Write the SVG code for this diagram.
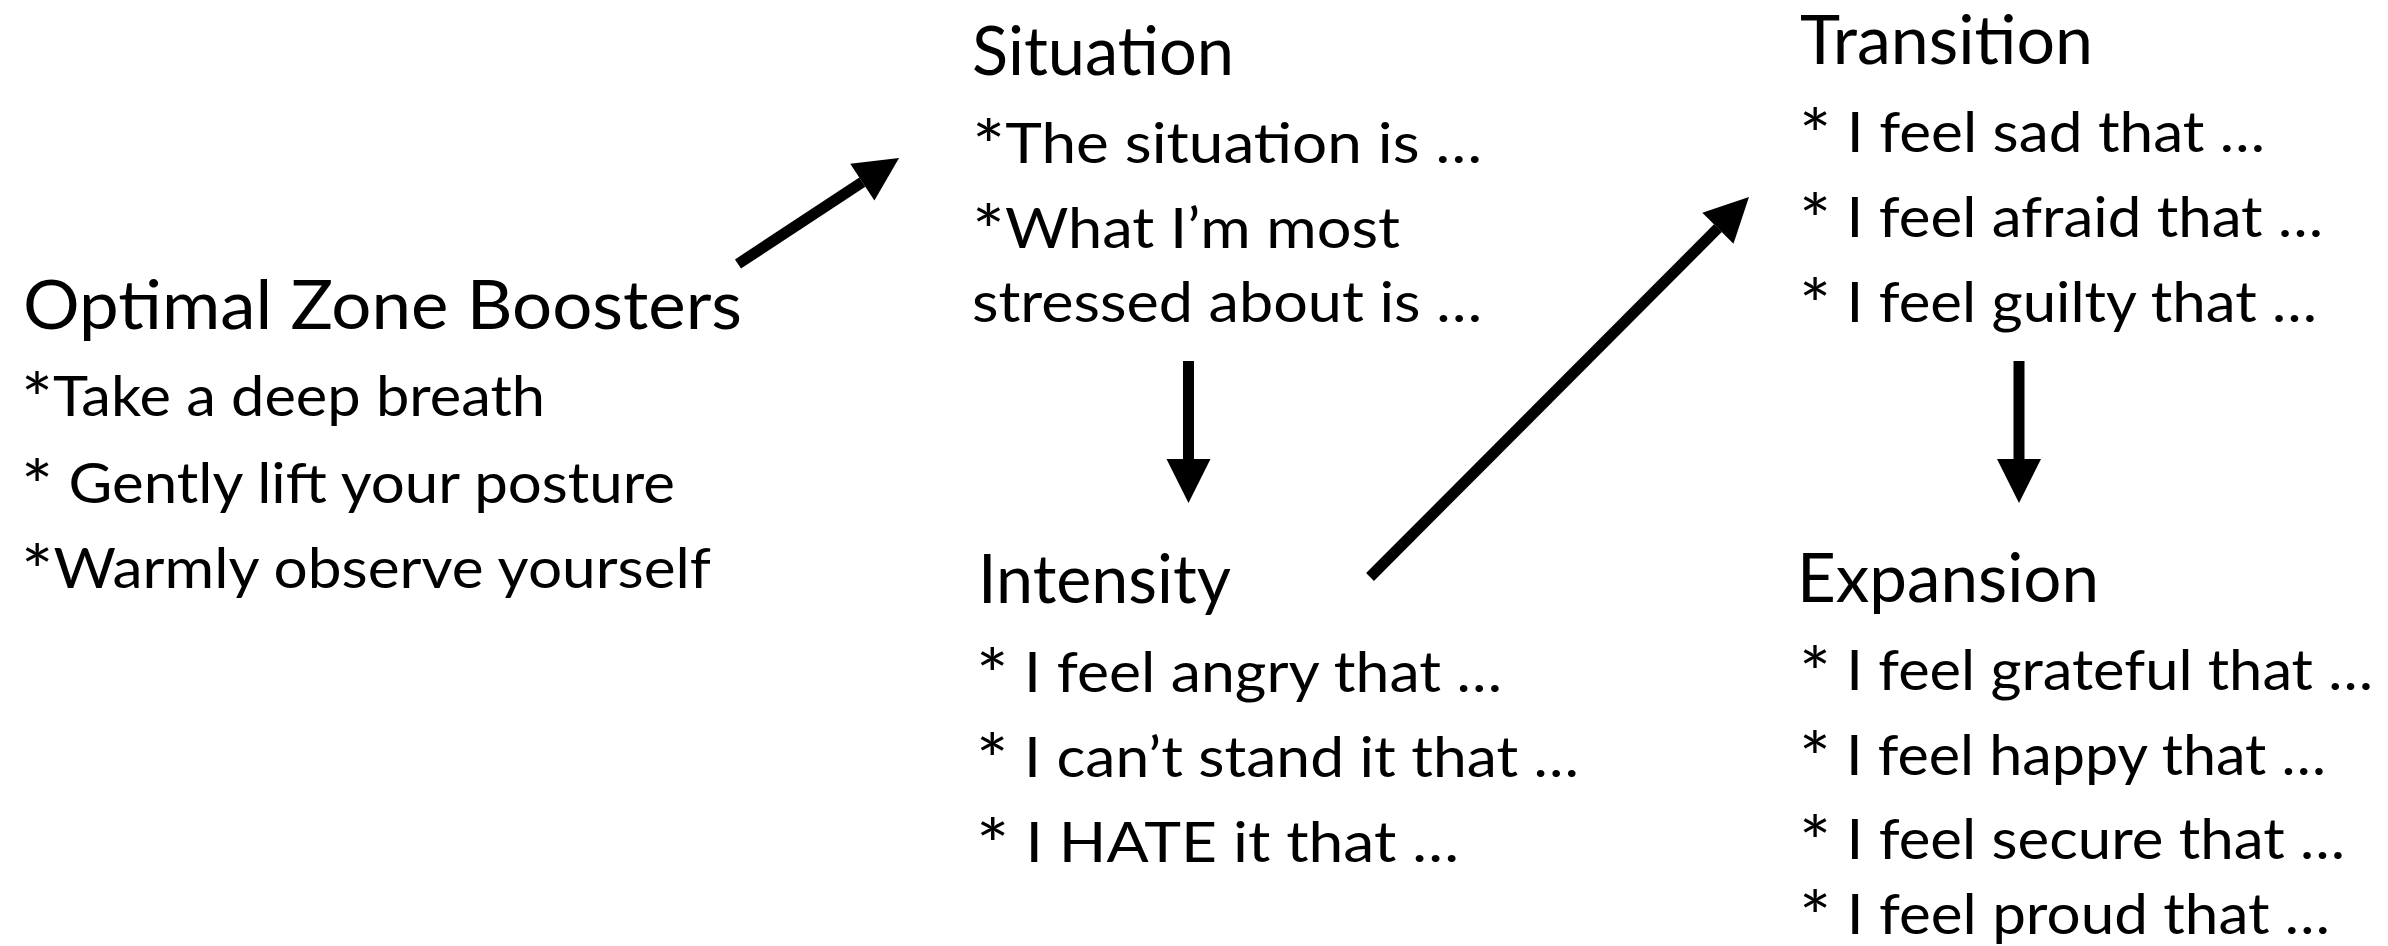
<svg xmlns="http://www.w3.org/2000/svg" width="2388" height="946" viewBox="0 0 2388 946">
  <style>
    .title { font-family: Lato, "Open Sans", "Liberation Sans", sans-serif; font-size: 67px; fill: #000; }
    .item { font-family: Lato, "Open Sans", "Liberation Sans", sans-serif; font-size: 57px; fill: #000; }
    .ast { font-size: 72px; baseline-shift: -9px; }
    .link { stroke: #000; stroke-width: 11; fill: none; marker-end: url(#head); }
  </style>
  <defs>
    <marker id="head" markerUnits="userSpaceOnUse" markerWidth="44" markerHeight="44" refX="0" refY="22" orient="auto" overflow="visible">
      <path d="M0,0 L44,22 L0,44 Z" fill="#000"/>
    </marker>
  </defs>
  <rect width="2388" height="946" fill="#fff"/>

  <!-- left block: warm-up steps -->
  <g id="boosters">
    <text class="title" x="23" y="329" textLength="719" lengthAdjust="spacingAndGlyphs">Optimal Zone Boosters</text>
    <text class="item" x="21" y="416" textLength="524" lengthAdjust="spacingAndGlyphs"><tspan class="ast">*</tspan>Take a deep breath</text>
    <text class="item" x="21" y="503" textLength="654" lengthAdjust="spacingAndGlyphs"><tspan class="ast">*</tspan> Gently lift your posture</text>
    <text class="item" x="21" y="588" textLength="690" lengthAdjust="spacingAndGlyphs"><tspan class="ast">*</tspan>Warmly observe yourself</text>
  </g>

  <g id="situation">
    <text class="title" x="972" y="75" textLength="262" lengthAdjust="spacingAndGlyphs">Situation</text>
    <text class="item" x="972" y="163" textLength="510" lengthAdjust="spacingAndGlyphs"><tspan class="ast">*</tspan>The situation is …</text>
    <text class="item" x="972" y="248" textLength="428" lengthAdjust="spacingAndGlyphs"><tspan class="ast">*</tspan>What I’m most</text>
    <text class="item" x="972" y="322" textLength="510" lengthAdjust="spacingAndGlyphs">stressed about is …</text>
  </g>

  <g id="intensity">
    <text class="title" x="978" y="603" textLength="253" lengthAdjust="spacingAndGlyphs">Intensity</text>
    <text class="item" x="976" y="692" textLength="526" lengthAdjust="spacingAndGlyphs"><tspan class="ast">*</tspan> I feel angry that …</text>
    <text class="item" x="976" y="777" textLength="603" lengthAdjust="spacingAndGlyphs"><tspan class="ast">*</tspan> I can’t stand it that …</text>
    <text class="item" x="976" y="862" textLength="483" lengthAdjust="spacingAndGlyphs"><tspan class="ast">*</tspan> I HATE it that …</text>
  </g>

  <g id="transition">
    <text class="title" x="1800" y="64" textLength="293" lengthAdjust="spacingAndGlyphs">Transition</text>
    <text class="item" x="1799" y="152" textLength="466" lengthAdjust="spacingAndGlyphs"><tspan class="ast">*</tspan> I feel sad that …</text>
    <text class="item" x="1799" y="237" textLength="524" lengthAdjust="spacingAndGlyphs"><tspan class="ast">*</tspan> I feel afraid that …</text>
    <text class="item" x="1799" y="322" textLength="518" lengthAdjust="spacingAndGlyphs"><tspan class="ast">*</tspan> I feel guilty that …</text>
  </g>

  <g id="expansion">
    <text class="title" x="1797" y="602" textLength="302" lengthAdjust="spacingAndGlyphs">Expansion</text>
    <text class="item" x="1799" y="690" textLength="574" lengthAdjust="spacingAndGlyphs"><tspan class="ast">*</tspan> I feel grateful that …</text>
    <text class="item" x="1799" y="775" textLength="527" lengthAdjust="spacingAndGlyphs"><tspan class="ast">*</tspan> I feel happy that …</text>
    <text class="item" x="1799" y="859" textLength="546" lengthAdjust="spacingAndGlyphs"><tspan class="ast">*</tspan> I feel secure that …</text>
    <text class="item" x="1799" y="934" textLength="531" lengthAdjust="spacingAndGlyphs"><tspan class="ast">*</tspan> I feel proud that …</text>
  </g>

  <!-- flow arrows between the stages -->
  <g id="connectors">
    <line class="link" x1="738" y1="264" x2="862.3" y2="182.2"/>
    <line class="link" x1="1188.5" y1="361" x2="1188.5" y2="459"/>
    <line class="link" x1="1370" y1="577" x2="1717.9" y2="228.2"/>
    <line class="link" x1="2019" y1="361" x2="2019" y2="459"/>
  </g>
</svg>
